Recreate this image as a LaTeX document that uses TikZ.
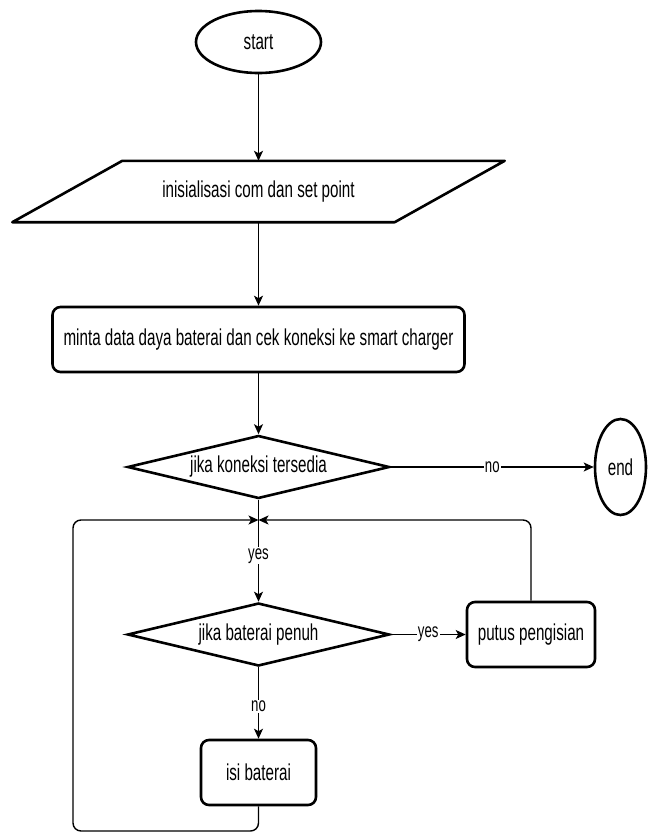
\documentclass[tikz,border=0pt]{standalone}
\usepackage{fontspec}
\setmainfont{Liberation Sans}[FakeStretch=0.66]
\usetikzlibrary{shapes.geometric,arrows.meta}
\begin{document}
\begin{tikzpicture}[x=1pt,y=-1pt,
  shp/.style={draw, line width=2.6pt, font=\fontsize{23}{26}\selectfont, inner sep=0pt},
  term/.style={shp, ellipse},
  proc/.style={shp, rounded corners=8pt, rectangle},
  dec/.style={shp, diamond, shape aspect=4.16, minimum width=262pt, minimum height=63pt},
  conn/.style={line width=1.4pt, -{Stealth[length=10pt,width=9pt,inset=2.5pt]}},
  lbl/.style={fill=white, inner sep=1pt, font=\fontsize{20}{23}\selectfont}]
\useasboundingbox (0,0) rectangle (649,835);
% nodes
\node[term, minimum width=125pt, minimum height=62pt] (start) at (258.5,42) {start};
\node[font=\fontsize{23}{26}\selectfont, inner sep=0pt, minimum width=382pt, minimum height=61pt] (init) at (258.5,191.5) {inisialisasi com dan set point};
\draw[line width=2.6pt, line join=round]
  ([xshift=55pt]init.north west) -- ([xshift=55pt]init.north east)
  -- ([xshift=-55pt]init.south east) -- ([xshift=-55pt]init.south west) -- cycle;
\node[proc, minimum width=412pt, minimum height=65pt] (req) at (258.5,339.5) {minta data daya baterai dan cek koneksi ke smart charger};
\node[dec] (dec1) at (258.5,467) {jika koneksi tersedia};
\node[term, minimum width=51pt, minimum height=96pt] (end) at (620.5,467) {end};
\node[dec] (dec2) at (258.5,634.5) {jika baterai penuh};
\node[proc, minimum width=128pt, minimum height=65pt] (cut) at (531,634.5) {putus pengisian};
\node[proc, minimum width=115pt, minimum height=65pt] (fill) at (258.5,772.5) {isi baterai};
\coordinate (m) at (258.5,520);
\coordinate (lb) at (73,831);
% connectors
\draw[conn] (start) -- (init);
\draw[conn] (init) -- (req);
\draw[conn] (req) -- (dec1);
\draw[conn] (dec1) -- node[lbl] {no} (end);
\draw[conn] (dec1) -- node[lbl, pos=0.55] {yes} (dec2);
\draw[conn] (dec2) -- node[lbl] {yes} (cut);
\draw[conn] (dec2) -- node[lbl, pos=0.55] {no} (fill);
\draw[conn, rounded corners=8pt] (cut.north) |- (m);
\draw[conn, rounded corners=8pt] (fill.south) |- (lb) |- (m);
\end{tikzpicture}
\end{document}
